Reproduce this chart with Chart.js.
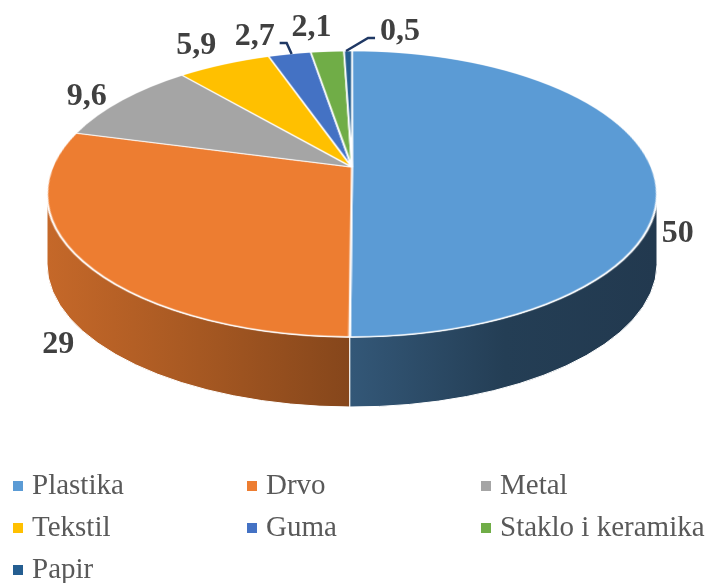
<!DOCTYPE html>
<html>
<head>
<meta charset="utf-8">
<script src="https://cdn.jsdelivr.net/npm/chart.js@4.4.1/dist/chart.umd.min.js"></script>
<style>
  body { margin: 0; background: #fff; }
  #wrap { position: relative; width: 709px; height: 583px; }
  #legend {
    position: absolute; left: 13px; top: 463px;
    display: grid; grid-template-columns: 234px 234px 234px;
    font-family: "Liberation Serif", "Times New Roman", serif;
    font-size: 29px; line-height: 42px; color: #595959;
  }
  #legend span.box { display: inline-block; width: 10px; height: 10px; margin-right: 9px; vertical-align: 3px; }
  #legend div { white-space: nowrap; }
</style>
</head>
<body>
<div id="wrap">
  <canvas id="pieChart" width="709" height="583"></canvas>
  <div id="legend"></div>
</div>
<script>
const categories = ['Plastika', 'Drvo', 'Metal', 'Tekstil', 'Guma', 'Staklo i keramika', 'Papir'];
const values = [50, 29, 9.6, 5.9, 2.7, 2.1, 0.5];
const colors = ['#5B9BD5', '#ED7D31', '#A5A5A5', '#FFC000', '#4472C4', '#70AD47', '#255E91'];

// label nudges from the slice edge (dx, dy) and whether a leader line is drawn
const labelNudge = [[26, 63], [-25, 80], [-35, -6], [-28, -21], [-35, -20], [-16, -26], [52, -22]];
const leader = [false, false, false, false, true, false, true];

function shade(hex, f) {
  const n = parseInt(hex.slice(1), 16);
  const r = Math.round(((n >> 16) & 255) * f);
  const g = Math.round(((n >> 8) & 255) * f);
  const b = Math.round((n & 255) * f);
  return `rgb(${r},${g},${b})`;
}

// perspective tilt: unit circle -> unit circle, centre moves to (0, tilt)
function tiltPoint(u, v, t) {
  const den = 1 + t * v;
  return [u * Math.sqrt(1 - t * t) / den, (v + t) / den];
}

// fake 3D: the library pie is re-projected into a tilted ellipse + side walls
const pie3d = {
  id: 'pie3d',
  afterDatasetsDraw(chart, args, o) {
    const ctx = chart.ctx;
    const W = chart.canvas.width, H = chart.canvas.height;
    const arcs = chart.getDatasetMeta(0).data;
    const a = arcs[0], R = a.outerRadius;
    const t = o.tilt, s = Math.sqrt(1 - t * t);

    // re-project the drawn pie
    const src = ctx.getImageData(0, 0, W, H).data;
    const out = ctx.createImageData(W, H);
    const dst = out.data;
    const sub = [[0.25, 0.125], [0.75, 0.375], [0.25, 0.625], [0.75, 0.875],
                 [0.75, 0.125], [0.25, 0.375], [0.75, 0.625], [0.25, 0.875]];
    const acc = [0, 0, 0, 0];
    function sample(x, y) {
      x -= 0.5; y -= 0.5;
      const x0 = Math.floor(x), y0 = Math.floor(y);
      const fx = x - x0, fy = y - y0;
      for (let j = 0; j < 2; j++) {
        for (let i = 0; i < 2; i++) {
          const xx = x0 + i, yy = y0 + j;
          if (xx < 0 || yy < 0 || xx >= W || yy >= H) continue;
          const w = (i ? fx : 1 - fx) * (j ? fy : 1 - fy);
          const k = (yy * W + xx) * 4;
          const al = src[k + 3] * w;
          acc[0] += src[k] * al; acc[1] += src[k + 1] * al; acc[2] += src[k + 2] * al; acc[3] += al;
        }
      }
    }
    const y0 = Math.floor(o.cy - o.ry - 3), y1 = Math.ceil(o.cy + o.ry + 3);
    const x0 = Math.floor(o.cx - o.rx - 3), x1 = Math.ceil(o.cx + o.rx + 3);
    for (let y = y0; y <= y1; y++) {
      for (let x = x0; x <= x1; x++) {
        acc[0] = acc[1] = acc[2] = acc[3] = 0;
        for (const d of sub) {
          const up = (x + d[0] - o.cx) / o.rx;
          const vp = (y + d[1] - o.cy) / o.ry;
          const den = 1 - t * vp;
          const u = up * s / den, v = (vp - t) / den;
          sample(a.x + R * u, a.y + R * v);
        }
        if (acc[3] <= 0) continue;
        const k = (y * W + x) * 4;
        dst[k] = acc[0] / acc[3];
        dst[k + 1] = acc[1] / acc[3];
        dst[k + 2] = acc[2] / acc[3];
        dst[k + 3] = acc[3] / sub.length;
      }
    }
    const tmp = document.createElement('canvas');
    tmp.width = W; tmp.height = H;
    tmp.getContext('2d').putImageData(out, 0, 0);
    ctx.clearRect(0, 0, W, H);

    // side walls (front half of the ellipse)
    arcs.forEach((arc, i) => {
      const p0 = tiltPoint(Math.cos(arc.startAngle), Math.sin(arc.startAngle), t);
      const p1 = tiltPoint(Math.cos(arc.endAngle), Math.sin(arc.endAngle), t);
      let f0 = Math.atan2(p0[1], p0[0]);
      let f1 = Math.atan2(p1[1], p1[0]);
      while (f1 < f0) f1 += Math.PI * 2;
      const a0 = Math.max(f0, 0), a1 = Math.min(f1, Math.PI);
      if (a1 <= a0) return;
      const grad = ctx.createLinearGradient(o.cx - o.rx, 0, o.cx + o.rx, 0);
      grad.addColorStop(0, shade(colors[i], 0.83));
      grad.addColorStop(0.25, shade(colors[i], 0.70));
      grad.addColorStop(0.5, shade(colors[i], 0.56));
      grad.addColorStop(0.75, shade(colors[i], 0.40));
      grad.addColorStop(1, shade(colors[i], 0.37));
      ctx.beginPath();
      ctx.ellipse(o.cx, o.cy, o.rx, o.ry, 0, a0, a1);
      ctx.ellipse(o.cx, o.cy + o.depth, o.rx, o.ry, 0, a1, a0, true);
      ctx.closePath();
      ctx.fillStyle = grad;
      ctx.fill();
      ctx.strokeStyle = '#fff';
      ctx.lineWidth = 1;
      ctx.stroke();
    });
    ctx.drawImage(tmp, 0, 0);

    // value labels
    ctx.save();
    ctx.font = 'bold 32px "Liberation Serif", "Times New Roman", serif';
    ctx.fillStyle = '#404040';
    ctx.textAlign = 'center';
    ctx.textBaseline = 'alphabetic';
    arcs.forEach((arc, i) => {
      const m = (arc.startAngle + arc.endAngle) / 2;
      const p = tiltPoint(Math.cos(m), Math.sin(m), t);
      const ex = o.cx + o.rx * p[0];
      const ey = o.cy + o.ry * p[1];
      const lx = ex + labelNudge[i][0];
      const ly = ey + labelNudge[i][1];
      const txt = String(values[i]).replace('.', ',');
      ctx.fillText(txt, lx, ly + 11);
      if (leader[i]) {
        const w = ctx.measureText(txt).width;
        const side = lx < ex ? 1 : -1;
        const sx = lx + side * (w / 2 + 5);
        ctx.beginPath();
        ctx.moveTo(sx, ly + 9);
        ctx.lineTo(sx + side * 7, ly + 9);
        ctx.lineTo(ex + side * 2, ey);
        ctx.strokeStyle = '#1F3864';
        ctx.lineWidth = 2.5;
        ctx.stroke();
      }
    });
    ctx.restore();
  }
};

const pieCtx = document.getElementById('pieChart').getContext('2d');
const pieChart = new Chart(pieCtx, {
  type: 'pie',
  data: {
    labels: categories,
    datasets: [{
      data: values,
      backgroundColor: colors,
      borderColor: '#ffffff',
      borderWidth: 2,
      clip: false
    }]
  },
  options: {
    responsive: false,
    animation: false,
    events: [],
    plugins: {
      legend: { display: false },
      tooltip: { enabled: false },
      pie3d: { cx: 352, cy: 194, rx: 305, ry: 143, depth: 70, tilt: -0.188 }
    }
  },
  plugins: [pie3d]
});

// legend in 3 columns
const legendEl = document.getElementById('legend');
categories.forEach((c, i) => {
  const d = document.createElement('div');
  d.innerHTML = `<span class="box" style="background:${colors[i]}"></span>${c}`;
  legendEl.appendChild(d);
});
</script>
</body>
</html>
